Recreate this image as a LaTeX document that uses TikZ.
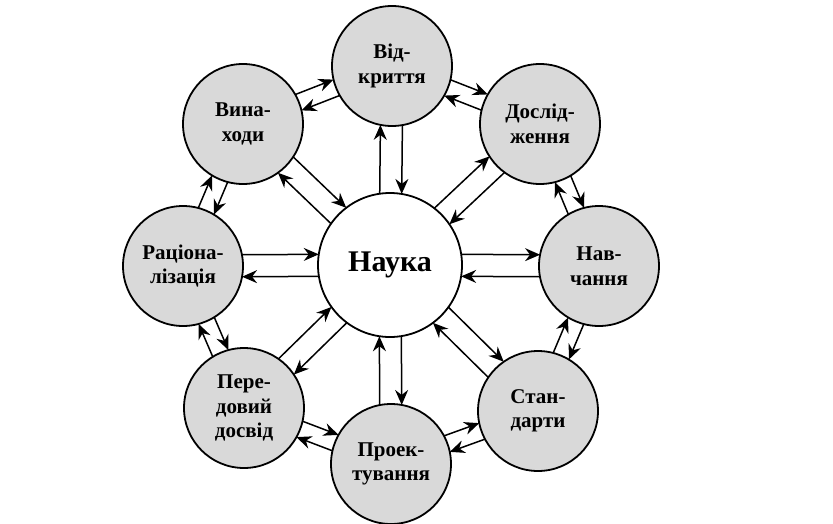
\documentclass[tikz,border=0pt]{standalone}
\usepackage{fontspec}
\setmainfont{Liberation Serif}
\usetikzlibrary{arrows.meta,calc}

\tikzset{
  every topic/.style={circle, draw, line width=1.8pt, fill=black!15, minimum size=120pt,
    inner sep=0pt, align=center, font=\bfseries\fontsize{21}{24.5}\selectfont},
  science/.style={circle, draw, line width=1.8pt, fill=white, minimum size=144pt,
    inner sep=0pt, font=\bfseries\fontsize{30}{34}\selectfont},
  ring/.style={->, line width=1.5pt, shorten <=59.4pt, shorten >=59.4pt},
  spoke out/.style={->, line width=1.5pt, shorten <=71.2pt, shorten >=59pt},
  spoke in/.style={->, line width=1.5pt, shorten <=59pt, shorten >=71.2pt}
}

\begin{document}
\begin{tikzpicture}[x=1pt, y=-1pt, >={Stealth[length=15pt,width=13pt,inset=5pt]}]
\useasboundingbox (0,0) rectangle (833,523);

\node [science] (nauka) at (390,265) {Наука};

\foreach \x/\y/\l [count=\i] in {392/66/{Від-\\криття}, 540/124/{Дослід-\\ження},
    599/266/{Нав-\\чання}, 538/411/{Стан-\\дарти}, 391/464/{Проек-\\тування},
    244/408/{Пере-\\довий\\досвід}, 183/266/{Раціона-\\лізація}, 243/124/{Вина-\\ходи}}
  \node [every topic] (topic-\i) at (\x,\y) {\l};

% science <-> topics
\foreach \i in {1,...,8} {
  \draw [spoke out] ($(nauka)!11pt!90:(topic-\i)$) -- ($(topic-\i)!11pt!-90:(nauka)$);
  \draw [spoke in] ($(topic-\i)!11pt!90:(nauka)$) -- ($(nauka)!11pt!-90:(topic-\i)$);
}

% neighbours on the ring
\foreach \i/\j in {1/2,2/3,3/4,4/5,5/6,6/7,7/8,8/1} {
  \draw [ring] ($(topic-\i)!8.5pt!90:(topic-\j)$) -- ($(topic-\j)!8.5pt!-90:(topic-\i)$);
  \draw [ring] ($(topic-\j)!8.5pt!90:(topic-\i)$) -- ($(topic-\i)!8.5pt!-90:(topic-\j)$);
}
\end{tikzpicture}
\end{document}
